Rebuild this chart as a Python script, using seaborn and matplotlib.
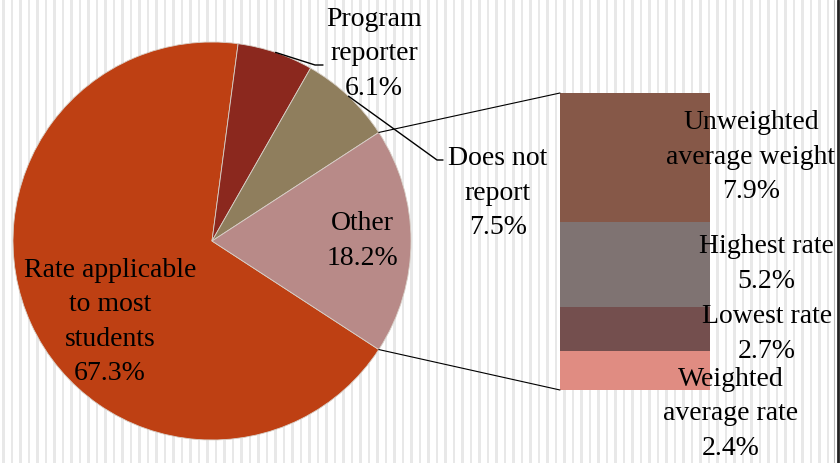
import numpy as np
import pandas as pd
import matplotlib
matplotlib.use("Agg")
import matplotlib.pyplot as plt
from matplotlib.patches import ConnectionPatch
import seaborn as sns

# ---- data ----
pie_labels = ["Rate applicable\nto most\nstudents", "Program\nreporter", "Does not\nreport", "Other"]
pie_values = [67.3, 6.1, 7.5, 18.2]
pie_colors = ["#BE4013", "#8B281E", "#8F7E5D", "#B88A88"]

bar_labels = ["Unweighted\naverage weight", "Highest rate", "Lowest rate", "Weighted\naverage rate"]
bar_values = [7.9, 5.2, 2.7, 2.4]
bar_colors = ["#865848", "#7F7372", "#744F4E", "#E08C82"]

sns.set_theme(style="white")
plt.rcParams['font.family'] = ['Liberation Serif', 'DejaVu Serif']
plt.rcParams['text.color'] = 'black'

W, H = 840, 463
FS = 20
LS = 1.5
fig = plt.figure(figsize=(8.4, 4.63), dpi=100)

# background with thin vertical stripes and right border
bg = fig.add_axes([0, 0, 1, 1])
bg.set_xlim(0, W)
bg.set_ylim(H, 0)
bg.axis('off')
for x in np.arange(2, 832, 8.5):
    bg.axvspan(x, x + 2.5, color="#E8E8E8", lw=0)
bg.axvline(834, color="#BBBBBB", lw=0.8)
bg.axvline(837.5, color="#222222", lw=2)

# ---- pie ----
ax = fig.add_axes([0, 0, 1, 1])
ax.patch.set_alpha(0)
cx, cy, R = 212, H - 241, 199
total = sum(pie_values)
start = -180 * pie_values[-1] / total
wedges, _ = ax.pie(pie_values, colors=pie_colors, startangle=start, counterclock=False,
                   center=(cx, cy), radius=R, frame=True,
                   wedgeprops=dict(linewidth=0.6, edgecolor="#D8D0C8"))
ax.set_xlim(0, W)
ax.set_ylim(0, H)
ax.set_aspect('equal', adjustable='box')
ax.axis('off')

# leader lines for outside labels
def mid_point(w):
    th = np.deg2rad((w.theta1 + w.theta2) / 2)
    return cx + R * np.cos(th), cy + R * np.sin(th)

px, py = mid_point(wedges[1])
ax.plot([px, 315, 323], [py, H - 65, H - 65], color="black", lw=1)
px, py = mid_point(wedges[2])
ax.plot([px, 437, 443], [py, H - 160, H - 160], color="black", lw=1)

# ---- bar of "Other" ----
axb = fig.add_axes([560 / W, (H - 390) / H, 150 / W, 297 / H])
axb.patch.set_alpha(0)
cum = np.cumsum(bar_values[::-1])[::-1]
for c, col in zip(cum, bar_colors):
    sns.barplot(x=[0], y=[c], color=col, width=1, saturation=1, ax=axb, linewidth=0)
axb.set_xlim(-0.5, 0.5)
axb.set_ylim(0, sum(bar_values))
axb.axis('off')

# connectors
th1 = np.deg2rad(wedges[3].theta1)
th2 = np.deg2rad(wedges[3].theta2)
for th, yb in [(th2, sum(bar_values)), (th1, 0)]:
    con = ConnectionPatch(xyA=(-0.5, yb), coordsA=axb.transData,
                          xyB=(cx + R * np.cos(th), cy + R * np.sin(th)), coordsB=ax.transData,
                          color="black", lw=0.8)
    fig.add_artist(con)

# ---- text overlay ----
top = fig.add_axes([0, 0, 1, 1])
top.patch.set_alpha(0)
top.set_xlim(0, W)
top.set_ylim(H, 0)
top.axis('off')

def ptxt(i):
    return f"{pie_labels[i]}\n{pie_values[i]}%"

def btxt(i):
    return f"{bar_labels[i]}\n{bar_values[i]}%"

kw = dict(ha='center', va='center', fontsize=FS, linespacing=LS, color='black')
top.text(110, 322, ptxt(0), **kw)
top.text(362, 241, ptxt(3), **kw)
top.text(374, 54, ptxt(1), **kw)
top.text(498, 193, ptxt(2), **kw)

top.text(751, 157, btxt(0), **kw)
top.text(766, 264, btxt(1), **kw)
top.text(767, 334, btxt(2), **kw)
top.text(731, 414, btxt(3), **kw)

fig.savefig("out.png", dpi=100)
